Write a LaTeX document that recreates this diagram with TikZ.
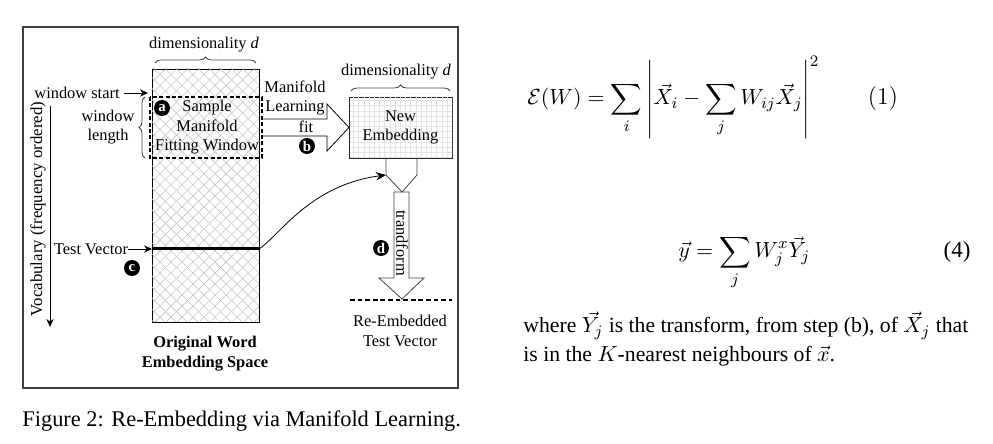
\documentclass[tikz,border=0pt]{standalone}
\usepackage[no-math]{fontspec}
\setmainfont{Liberation Serif}
\usepackage{amsmath}
\usetikzlibrary{arrows.meta}
\usetikzlibrary{patterns.meta,decorations.pathreplacing,calc,positioning}

\begin{document}
\begin{tikzpicture}[x=0.5pt,y=-0.5pt,
		txt/.style={font=\fontsize{8.2}{9.8}\selectfont,inner sep=0pt,align=center},
		stepdot/.style={circle,fill=black,text=white,inner sep=0pt,minimum size=8pt,font=\fontsize{7.4}{7.4}\selectfont\bfseries},
		arr/.style={-{Stealth[length=4pt,width=3.6pt]}},
		hatched/.style={pattern={Lines[angle=45,distance=3.9pt,line width=0.3pt]},pattern color=gray!45,
			postaction={pattern={Lines[angle=-45,distance=3.9pt,line width=0.3pt]},pattern color=gray!45}},
		gridded/.style={pattern={Lines[angle=0,distance=2.6pt,line width=0.5pt]},pattern color=gray!22,
			postaction={pattern={Lines[angle=90,distance=2.6pt,line width=0.5pt]},pattern color=gray!22}},
		winline/.style={line width=0.8pt,dash pattern=on 2pt off 1.2pt},
		brc/.style={decorate,decoration={brace,amplitude=3pt},draw=black!75}]

		\useasboundingbox (0,0) rectangle (993,444);
		
		\coordinate (F1) at (23,27);
		\coordinate (F2) at (458,388);
		\coordinate (O1) at (152,69);
		\coordinate (O2) at (259,322);
		\coordinate (W1) at (150,97);
		\coordinate (W2) at (262,158);
		\coordinate (N1) at (349,97);
		\coordinate (N2) at (452,158);
		\coordinate (T1) at (152,249);
		\coordinate (T2) at (259,249);
		\coordinate (P1) at (386,175);
		
		\draw [draw=black!75,line width=0.6pt] (F1) rectangle (F2);
		
		% original space
		\draw [hatched] (O1) rectangle (O2);
		\draw [winline] (W1) rectangle (W2);
		\draw [line width=1.5pt] (T1) -- (T2);
		\draw [brc] (155,63) -- (256,63);
		\node [txt] (dimL) at (204,45) {dimensionality \textit{d}};
		\node [txt] (wstart) at (77,93) {window start};
		\coordinate (wtip) at (148,93);
		\draw [arr,shorten <=2pt] (wstart) -- (wtip);
		\draw [brc] (145,158) -- (145,97);
		\node [txt] (wlen) at (108,127) {window\\length};
		\node [txt,font=\fontsize{8.2}{9.75}\selectfont] (sample) at (207,127.5) {Sample\\Manifold\\Fitting Window};
		\node [stepdot] (a) at (162,108) {a};
		\node [txt,rotate=90,font=\fontsize{8.4}{10}\selectfont] (vocab) at (38,209) {Vocabulary (frequency ordered)};
		\coordinate (V1) at (50,106);
		\coordinate (V2) at (50,327);
		\draw [arr] (V1) -- (V2);
		\node [txt] (test) at (91,249) {Test Vector};
		\draw [arr] (test) -- (T1);
		\node [stepdot] (c) at (132,268) {c};
		\node [txt,font=\fontsize{8.2}{9.75}\selectfont\bfseries] (orig) at (205,353.5) {Original Word\\Embedding Space};
		
		% manifold learning fit
		\draw (262,119) -- (327,119) -- (327,104) -- (349,127.5) -- (327,151) -- (327,136) -- (262,136);
		\node [txt] (mlf) at (295,98) {Manifold\\Learning};
		\node [txt] (fit) at (306,127) {fit};
		\node [stepdot] (b) at (307,146) {b};
		
		% new embedding
		\draw [gridded,draw=black!85] (N1) rectangle (N2);
		\node [txt] (newemb) at (400.5,127.5) {New\\Embedding};
		\draw [brc] (351,91) -- (450,91);
		\node [txt] (dimR) at (396,72) {dimensionality \textit{d}};
		\draw [draw=black!75] (386,158) -- (P1) -- (402,192) -- (417,175) -- (417,158);
		\draw [-{Stealth[length=5pt,width=4.2pt]}] (T2) .. controls (280,235) and (310,185) .. (P1);
		
		% transform
		\draw [draw=black!75] (394,192) -- (394,278) -- (379,278) -- (402,299) -- (424,278) -- (409,278) -- (409,192) -- cycle;
		\node [txt,rotate=-90] (trans) at (402,243) {trandform};
		\node [stepdot] (d) at (381,248) {d};
		\draw [line width=1.3pt,dash pattern=on 2.4pt off 1.4pt] (350,300) -- (452,300);
		\node [txt] (reemb) at (400,331) {Re-Embedded\\Test Vector};
		
		% equations
		\node [anchor=base west,inner sep=0pt,font=\fontsize{11}{14}\selectfont] (eq1) at (527,105)
			{$\displaystyle \mathcal{E}(W)=\sum_i\left|\vec{X}_i-\sum_j W_{ij}\vec{X}_j\right|^2$};
		\node [anchor=base,inner sep=0pt,font=\fontsize{11.5}{14}\selectfont] (tag1) at (883,105) {$(1)$};
		\node [anchor=base west,inner sep=0pt,font=\fontsize{11.2}{14}\selectfont] (eq4) at (678,258)
			{$\displaystyle \vec{y}=\sum_j W_j^x\vec{Y}_j$};
		\node [anchor=base,inner sep=0pt,font=\fontsize{11.5}{14}\selectfont] (tag4) at (957,258) {(4)};
		\node [anchor=base west,inner sep=0pt,font=\fontsize{10.85}{13}\selectfont] (where1) at (523,333)
			{where $\vec{Y_j}$ is the transform, from step (b), of $\vec{X}_j$ that};
		\node [anchor=base west,inner sep=0pt,font=\fontsize{10.85}{13}\selectfont] (where2) at (523,362)
			{is in the $K$-nearest neighbours of $\vec{x}$.};
		\node [anchor=base west,inner sep=0pt,font=\fontsize{11.2}{13}\selectfont] (cap) at (22,427)
			{Figure 2: Re-Embedding via Manifold Learning.};
		
\end{tikzpicture}
\end{document}
